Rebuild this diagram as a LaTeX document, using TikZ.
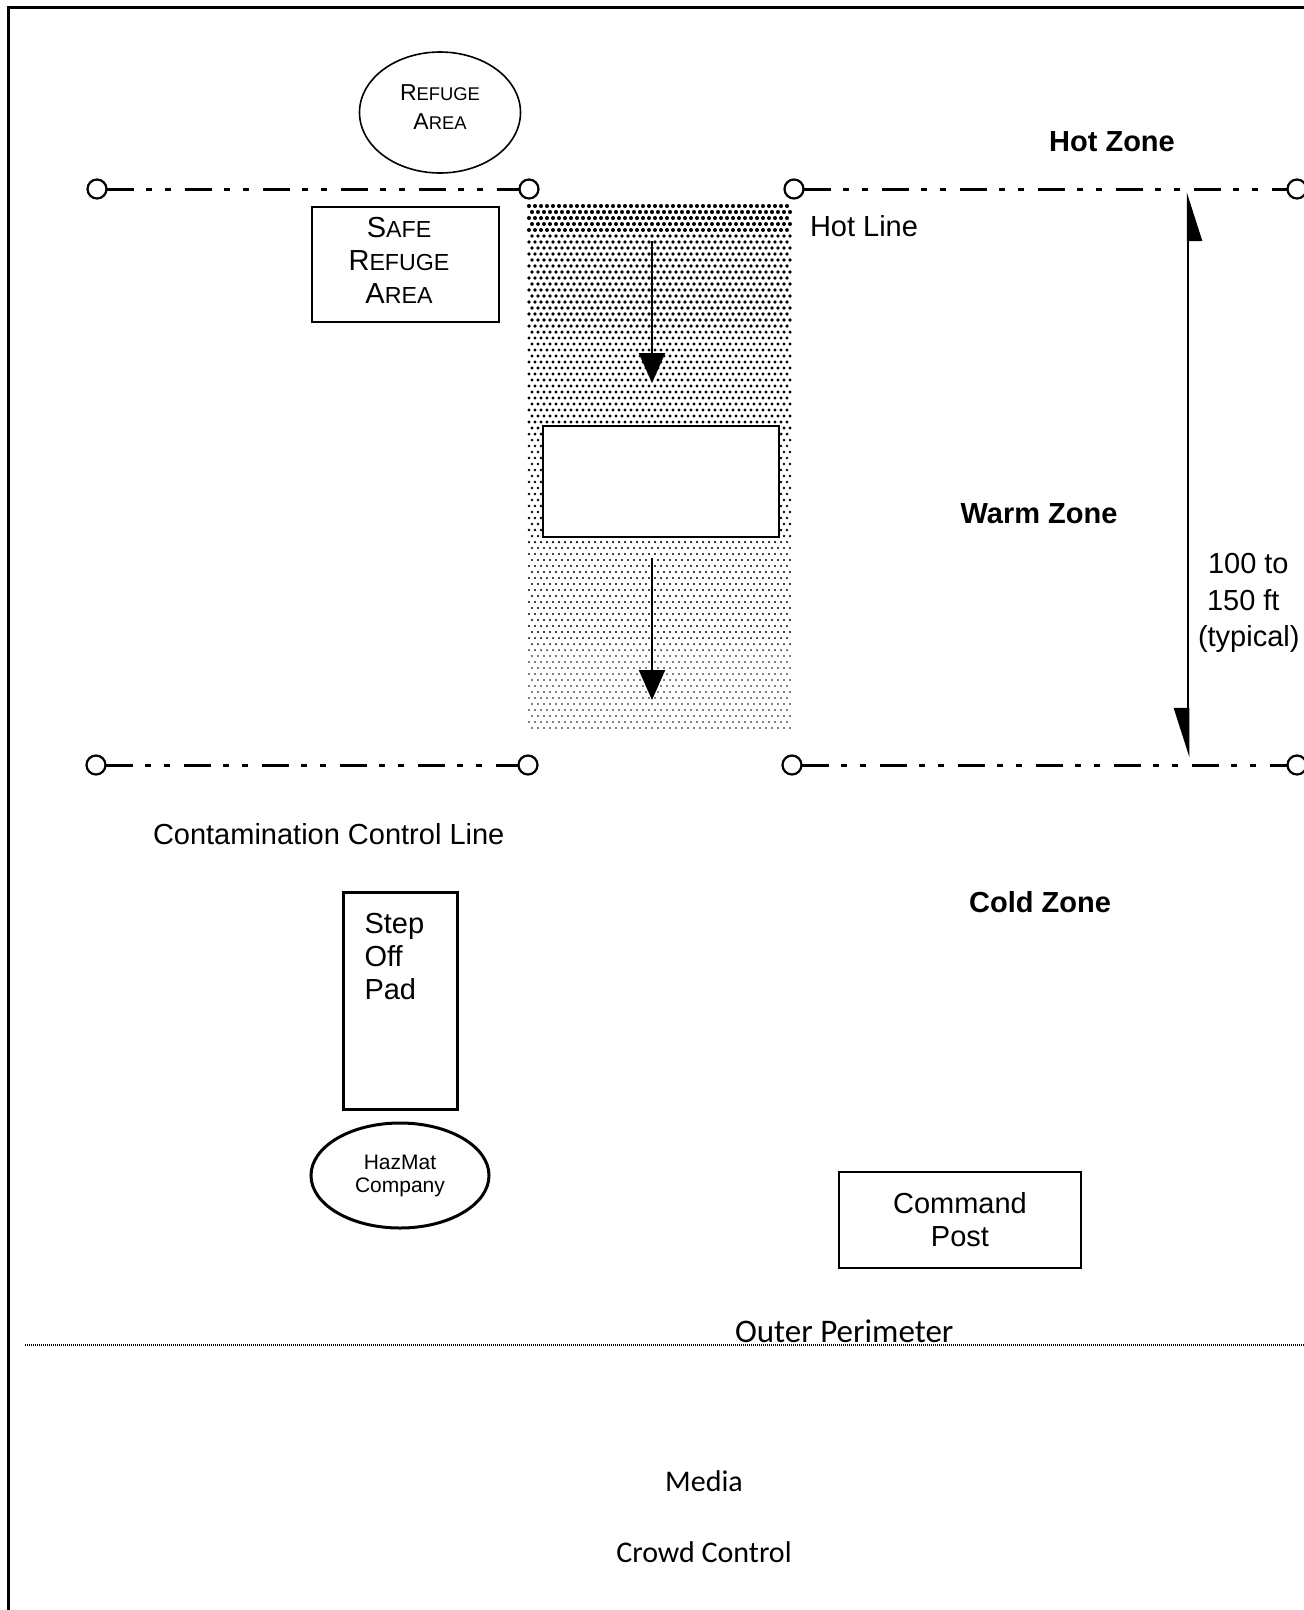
\documentclass[tikz,border=0pt]{standalone}
\usepackage{fontspec}
\setmainfont{Liberation Sans}
\newfontfamily\carl{Carlito}
\usetikzlibrary{arrows.meta,shapes.geometric}
\newcommand{\fsz}[2]{\fontsize{#1pt}{#2pt}\selectfont}
\newcommand{\smc}[2]{#1\scalebox{0.8}{#2}}
\tikzset{dimtip/.tip={Triangle[harpoon,swap,length=45pt,width=28pt]}}
\begin{document}
\begin{tikzpicture}[x=1pt,y=-1pt,
  every node/.style={inner sep=0pt,outer sep=0pt},
  lbl/.style={font=\fsz{29}{33}},
  zonelbl/.style={font=\fsz{29}{33}\bfseries},
  zonebox/.style={draw,rectangle,line width=2pt,fill=white},
  endpt/.style={circle,draw,line width=2.2pt,fill=white,minimum size=19pt},
  zoneline/.style={line width=3pt,dash pattern=on 27pt off 12.5pt on 6pt off 12.5pt on 6pt off 14pt},
  flow/.style={line width=2.2pt,-{Triangle[length=30pt,width=26pt]}},
  perim/.style={line width=1.3pt,dash pattern=on 1pt off 1pt},
  sans2/.style={font=\carl\fsz{30}{34}}
]
\useasboundingbox (0,0) rectangle (1304,1610);
\clip (0,0) rectangle (1304,1610);
\fill[white] (0,0) rectangle (1304,1610);
% frame
\draw[line width=3pt] (8,7) rectangle (1340,1650);

% stippled decontamination corridor
\foreach \i in {0,...,87} {
  \pgfmathsetmacro{\yy}{206+6*\i}
  \pgfmathsetmacro{\rr}{2.05-1.25*\i/87}
  \pgfmathsetmacro{\off}{mod(\i,2)*3}
  \fill \foreach \j in {0,...,43} {({529+\off+6*\j},\yy) circle (\rr pt)};
}

% hot line and contamination control line
\node[endpt] (h1) at (97,189) {};
\node[endpt] (h2) at (529,189) {};
\node[endpt] (h3) at (794,189) {};
\node[endpt] (h4) at (1297,189) {};
\node[endpt] (c1) at (96,765) {};
\node[endpt] (c2) at (528,765) {};
\node[endpt] (c3) at (792,765) {};
\node[endpt] (c4) at (1297,765) {};
\draw[zoneline] (h1) -- (h2);
\draw[zoneline] (h3) -- (h4);
\draw[zoneline] (c1) -- (c2);
\draw[zoneline] (c3) -- (c4);

% refuge areas
\node[draw,ellipse,line width=1.6pt,minimum width=161,minimum height=121] (refuge) at (440,112.5) {};
\node[font=\fsz{23}{29},align=center] (refugetxt) at (440,107.5) {\smc{R}{EFUGE}\\\smc{A}{REA}};
\node[zonebox,minimum width=187,minimum height=115] (saferect) at (405.5,264.5) {};
\node[lbl,align=center] (safetxt) at (399,260) {\smc{S}{AFE}\\\smc{R}{EFUGE}\\\smc{A}{REA}};

% decon box and flow arrows
\node[zonebox,line width=2.5pt,minimum width=236,minimum height=111] (decon) at (661,481.5) {};
\coordinate (a1s) at (652,241);
\coordinate (a1e) at (652,383);
\coordinate (a2s) at (652,558);
\coordinate (a2e) at (652,700);
\draw[flow] (a1s) -- (a1e);
\draw[flow] (a2s) -- (a2e);

% labels
\node[lbl,anchor=west] (hotline) at (810,226) {Hot Line};
\node[zonelbl] (hotzone) at (1112,142) {Hot Zone};
\node[zonelbl] (warmzone) at (1039,514) {Warm Zone};
\node[zonelbl] (coldzone) at (1040,902) {Cold Zone};
\node[lbl,anchor=west] (ccl) at (153,834) {Contamination Control Line};

% distance
\coordinate (dtop) at (1188,192);
\coordinate (dbot) at (1188,757);
\draw[line width=2.5pt,dimtip-dimtip] (dbot) -- (dtop);
\node[lbl,anchor=base west] (dist1) at (1208,573) {100 to};
\node[lbl,anchor=base west] (dist2) at (1207,610) {150 ft};
\node[lbl,anchor=base west] (dist3) at (1198,646) {(typical)};

% cold zone items
\node[zonebox,line width=3pt,minimum width=114,minimum height=217] (pad) at (400,1000.5) {};
\node[lbl,align=left,anchor=north west] (padtxt) at (364.5,913) {Step\\Off\\Pad};
\node[draw,ellipse,line width=3pt,minimum width=178,minimum height=105,font=\fsz{21}{23},align=center] (hazmat) at (400,1175.5) {HazMat\\Company};
\node[zonebox,minimum width=242,minimum height=96,lbl,align=center] (cmd) at (960,1220) {Command\\Post};

% outer perimeter
\coordinate (op1) at (25,1345);
\coordinate (op2) at (1310,1345);
\draw[perim] (op1) -- (op2);
\node[font=\carl\fsz{33}{37},anchor=base west] (outer) at (735,1342) {Outer Perimeter};
\node[sans2] (media) at (704,1481) {Media};
\node[sans2] (crowd) at (704,1552) {Crowd Control};
\end{tikzpicture}
\end{document}
